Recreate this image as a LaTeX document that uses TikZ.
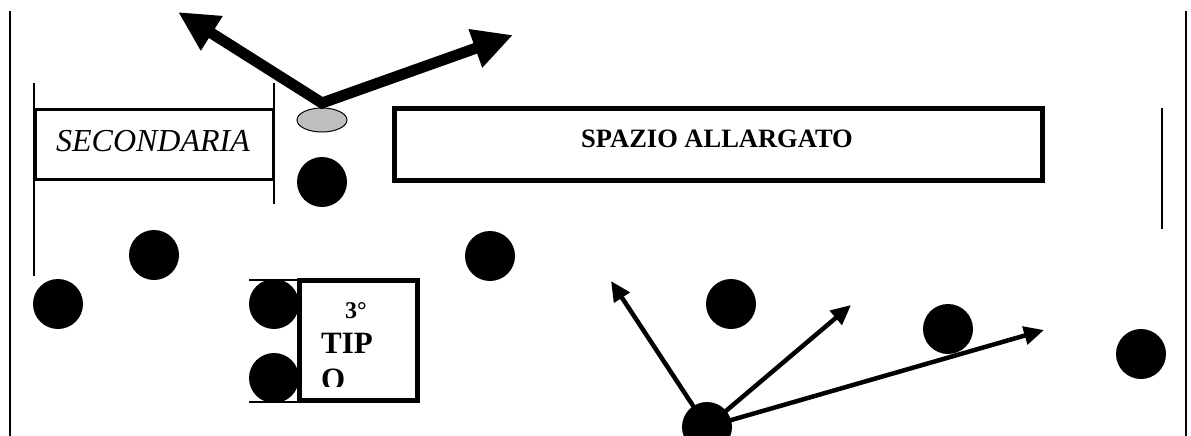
\documentclass[tikz,border=0pt]{standalone}
\usepackage{fontspec}
\setmainfont{Liberation Serif}
\usetikzlibrary{arrows.meta,shapes.geometric}
\begin{document}
\begin{tikzpicture}[x=1pt,y=-1pt,
  dot/.style={circle,fill=black,minimum size=50pt,inner sep=0pt},
  rule/.style={line width=1.5pt},
  thickbox/.style={draw,line width=5pt,inner sep=0pt},
  thinbox/.style={draw,line width=3pt,inner sep=0pt},
  bigarrow/.style={line width=11pt,line join=miter,
    {Triangle[length=40pt,width=38pt]}-{Triangle[length=40pt,width=38pt]}},
  smallarrow/.style={line width=4.5pt,-{Triangle[length=20pt,width=18pt]}},
  lbl/.style={inner sep=0pt}]

\useasboundingbox (0,0) rectangle (1191,436);
\fill[white] (0,0) rectangle (1191,436);

% outer side rules
\coordinate (lt) at (10,11);   \coordinate (lb) at (10,436);
\coordinate (rt) at (1186,11); \coordinate (rb) at (1186,436);
\draw[rule] (lt) -- (lb);
\draw[rule] (rt) -- (rb);
\coordinate (rst) at (1162,108); \coordinate (rsb) at (1162,229);
\draw[rule] (rst) -- (rsb);

% rules beside the secondary box
\coordinate (s1t) at (34,83);  \coordinate (s1b) at (34,276);
\coordinate (s2t) at (274,83); \coordinate (s2b) at (274,204);
\draw[rule] (s1t) -- (s1b);
\draw[rule] (s2t) -- (s2b);

% boxes
\node[thinbox,minimum width=238pt,minimum height=70pt] (sec) at (154.5,144.5) {};
\node[lbl,font=\itshape\fontsize{32}{36}\selectfont] (sectext) at (153,141) {SECONDARIA};

\node[thickbox,minimum width=648pt,minimum height=72pt] (spazio) at (718.5,144.5) {};
\node[lbl,font=\bfseries\fontsize{26.5}{30}\selectfont] (spaziotext) at (717,139) {SPAZIO ALLARGATO};

\node[thickbox,minimum width=118pt,minimum height=120pt] (tipo) at (358.5,340.5) {};
\coordinate (h1a) at (249,280); \coordinate (h1b) at (299,280);
\coordinate (h2a) at (249,402); \coordinate (h2b) at (299,402);
\draw[line width=1.2pt] (h1a) -- (h1b);
\draw[line width=1.2pt] (h2a) -- (h2b);
\begin{scope}
  \clip (300,283) rectangle (417,386);
  \node[lbl,anchor=base west,font=\bfseries\fontsize{24}{28}\selectfont] (deg) at (345,318) {3°};
  \node[lbl,anchor=base west,font=\bfseries\fontsize{31}{36}\selectfont] (tip) at (321,353) {TIP};
  \node[lbl,anchor=base west,font=\bfseries\fontsize{31}{36}\selectfont] (o) at (321,389) {O};
\end{scope}

% grey marker and the two heavy arrows
\node[ellipse,draw,line width=1pt,fill=black!25,minimum width=50pt,minimum height=24pt,inner sep=0pt] (mark) at (322,120) {};
\coordinate (apex) at (322,103);
\coordinate (ltip) at (178,12);
\coordinate (rtip) at (513,35);
\draw[bigarrow] (ltip) -- (apex) -- (rtip);

% players
\node[dot] (p1) at (322,182) {};
\node[dot] (p2) at (154,255) {};
\node[dot] (p3) at (490,256) {};
\node[dot] (p4) at (58,304) {};
\node[dot] (p5) at (274,304) {};
\node[dot] (p6) at (274,378) {};
\node[dot] (p7) at (731,304) {};
\node[dot] (p8) at (948,329) {};
\node[dot] (p9) at (1141,354) {};
\node[dot] (src) at (707,427) {};

% passing options
\coordinate (a1) at (611,281);
\coordinate (a2) at (851,305);
\coordinate (a3) at (1044,330);
\draw[smallarrow] (src.center) -- (a1);
\draw[smallarrow] (src.center) -- (a2);
\draw[smallarrow] (src.center) -- (a3);
\end{tikzpicture}
\end{document}
